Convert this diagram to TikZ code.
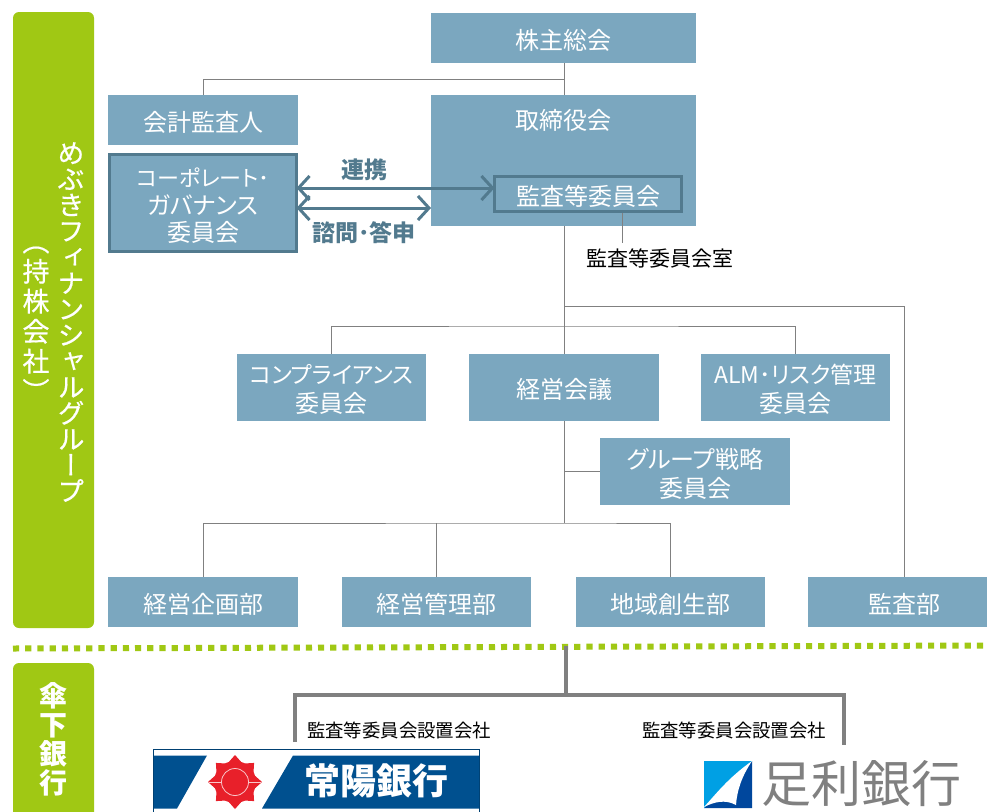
\documentclass[tikz,border=0pt]{standalone}
\usepackage{fontspec}
\setmainfont[RawFeature={+palt}]{Noto Sans CJK JP}
\newfontfamily\vfont[RawFeature={+vert},FakeBold=0.5]{Noto Sans CJK JP}
\usetikzlibrary{arrows.meta}
\definecolor{boxblue}{HTML}{7BA7BF}
\definecolor{darkblue}{HTML}{527A8E}
\definecolor{leaf}{HTML}{A0C814}
\definecolor{linegray}{HTML}{808080}
\definecolor{joyo}{HTML}{00508F}
\definecolor{sunred}{HTML}{E8202A}
\definecolor{ashisky}{HTML}{00A0E4}
\definecolor{ashinavy}{HTML}{00479D}
\newcommand{\kanaline}[1]{{\fontsize{23}{29}\selectfont #1}}
\newcommand{\kanashort}[1]{{\fontsize{22}{27.5}\selectfont #1}}
\tikzset{
  x=1pt,y=-1pt,
  box/.style={fill=boxblue,text=white,inner sep=0pt,outer sep=0pt,align=center,
    font=\fontsize{24}{29}\selectfont,execute at begin node={\rule{0pt}{25pt}}},
  boxw/.style={box,minimum width=189.5pt},
  boxtext/.style={text=white,inner sep=0pt,align=center,font=\fontsize{24}{29}\selectfont},
  h50/.style={minimum height=50pt},
  h67/.style={minimum height=67pt},
  framed/.style={box,draw=darkblue,line width=3pt},
  thin line/.style={draw=linegray,line width=1pt},
  thick line/.style={draw=linegray,line width=4pt},
  twoway/.style={draw=darkblue,line width=3pt,
    {Straight Barb[length=11pt,width=24pt,line width=3pt]}-{Straight Barb[length=11pt,width=24pt,line width=3pt]}},
  bluelabel/.style={text=darkblue,inner sep=0pt,font=\fontsize{23}{26}\selectfont\bfseries},
  blacklabel/.style={text=black,inner sep=0pt},
  band/.style={fill=leaf,rounded corners=6pt,minimum width=81pt,inner sep=0pt,outer sep=0pt},
  vtext/.style={text=white,inner sep=0pt,align=center},
}
\begin{document}
\begin{tikzpicture}
\path[use as bounding box] (0,0) rectangle (987,811);
\clip (0,0) rectangle (987,811);
\fill[white] (0,0) rectangle (987,811);

% green bands
\node[band,minimum height=616pt] (group) at (53.5,320) {};
\node[band,minimum height=180pt] (banks) at (53.5,753) {};
\node[vtext,font=\vfont\fontsize{27}{26}\selectfont] (grouptxt) at (71,322)
  {め\\ぶ\\き\\フ\\ィ\\ナ\\ン\\シ\\ャ\\ル\\グ\\ル\\ー\\プ};
\node[vtext,font=\vfont\fontsize{27}{30}\selectfont] (grouptxt2) at (36,324)
  {（\\持\\株\\会\\社\\）};
\node[vtext,font=\fontsize{28}{29}\selectfont\bfseries] (bankstxt) at (53,739)
  {傘\\下\\銀\\行};

% boxes
\node[box,minimum width=265pt,h50] (agm) at (563.5,38) {株主総会};
\node[boxw,h50] (auditor) at (203,120) {会計監査人};
\node[box,minimum width=265pt,minimum height=131pt,execute at begin node={}] (board) at (563.5,160.5) {};
\node[boxtext] (boardtxt) at (563.5,120) {取締役会};
\node[framed,minimum width=187pt,minimum height=97pt] (cg) at (203,203) {};
\node[boxtext,font=\fontsize{24}{27.5}\selectfont] (cgtxt) at (203,206)
  {\kanashort{コーポレート･}\\ガバナンス\\委員会};
\node[framed,minimum width=187pt,minimum height=35pt] (ac) at (588,194) {監査等委員会};
\node[boxw,h67] (comp) at (331.5,387.5) {};
\node[boxtext] (comptxt) at (331.5,389.5) {\kanaline{コンプライアンス}\\委員会};
\node[boxw,h67] (mgmt) at (564,387.5) {経営会議};
\node[boxw,h67] (alm) at (795.5,387.5) {};
\node[boxtext] (almtxt) at (795.5,389.5) {\kanaline{ALM･リスク管理}\\委員会};
\node[boxw,h67] (strat) at (695,471.5) {};
\node[boxtext] (strattxt) at (695,473.5) {グループ戦略\\委員会};
\node[boxw,h50] (plan) at (203,602) {経営企画部};
\node[boxw,h50] (ctrl) at (436.5,602) {経営管理部};
\node[boxw,h50] (region) at (670.5,602) {地域創生部};
\node[box,minimum width=192pt,h50] (audit) at (904,602) {監査部};
\node[blacklabel,font=\fontsize{21}{24}\selectfont] (acroom) at (660,258) {監査等委員会室};

% connector junctions
\coordinate (j1) at (564,79);
\coordinate (j2) at (564,326);
\coordinate (j3) at (564,306);
\coordinate (j4) at (564,523);
\coordinate (acout) at (622,213);
\coordinate (acroomin) at (622,243);

% thin connectors
\draw[thin line] (agm.south -| j1) -- (board.north -| j1);
\draw[thin line] (j1) -| (auditor.north);
\draw[thin line] (board.south -| j1) -- (mgmt.north -| j1);
\draw[thin line] (comp.north) |- (j2) -| (alm.north);
\draw[thin line] (j3) -| (audit.north);
\draw[thin line] (acout) -- (acroomin);
\draw[thin line] (mgmt.south) -- (j4);
\draw[thin line] (mgmt.south |- strat.west) -- (strat.west);
\draw[thin line] (plan.north) |- (j4) -| (region.north);
\draw[thin line] (ctrl.north) -- (ctrl.north |- j4);

% two-way arrows
\coordinate (a1) at (0,188);
\coordinate (a2) at (0,208);
\draw[twoway] (cg.east |- a1) -- (ac.west |- a1);
\draw[twoway] (cg.east |- a2) -- (board.west |- a2);
\node[bluelabel] (renkei) at (364,170) {連携};
\node[bluelabel] (shimon) at (364,233) {諮問･答申};

% divider
\coordinate (divL) at (13,648.5);
\coordinate (divR) at (987,645.5);
\draw[leaf,line width=6pt,dash pattern=on 6.2pt off 6pt] (divL) -- (divR);

% bank tree
\coordinate (t0) at (566,646);
\coordinate (t1) at (566,695);
\coordinate (tL) at (295,742);
\coordinate (tR) at (844,745);
\draw[thick line] (t0) -- (t1);
\draw[thick line,line join=miter] (tL) |- (t1) -| (tR);
\node[blacklabel,font=\fontsize{18.4}{22}\selectfont] (s1) at (399,730) {監査等委員会設置会社};
\node[blacklabel,font=\fontsize{18.4}{22}\selectfont] (s2) at (734,730) {監査等委員会設置会社};

% Joyo logo
\draw[joyo!80!black,fill=white,line width=1pt] (153.5,749.5) rectangle (479.5,815);
\fill[joyo] (154,755.5) -- (207,755.5) -- (177,808.5) -- (154,808.5) -- cycle;
\fill[joyo] (293,755.5) -- (479,755.5) -- (479,808.5) -- (262,808.5) -- cycle;
\begin{scope}[shift={(235,782)}]
  \foreach \a in {0,45,...,315}{
    \fill[sunred] (\a:27) -- (\a+22:20) -- (\a-22:20) -- cycle;
  }
  \fill[sunred] (0,0) circle[radius=21];
  \draw[white!75!sunred,line width=0.8pt] (0,0) circle[radius=13.5];
  \draw[white!75!sunred,line width=0.8pt] (-26,0) -- (-13.5,0) (13.5,0) -- (26,0);
\end{scope}
\node[text=white,inner sep=0pt,font=\fontsize{36}{40}\selectfont\bfseries] (joyotxt) at (376,781) {常陽銀行};

% Ashikaga logo
\fill[ashinavy] (752,761) -- (752,808) -- (704,808) -- cycle;
\fill[ashisky] (704,761) -- (752,761) -- (704,808) -- cycle;
\fill[white] (752,761) .. controls (728,778) and (716,794) .. (704,807)
  .. controls (714,802) and (725,799) .. (736,805)
  .. controls (737,790) and (742,776) .. (752,761) -- cycle;
\node[text=linegray,inner sep=0pt,font=\fontsize{50}{54}\selectfont] (ashitxt) at (861,784) {足利銀行};
\end{tikzpicture}
\end{document}
